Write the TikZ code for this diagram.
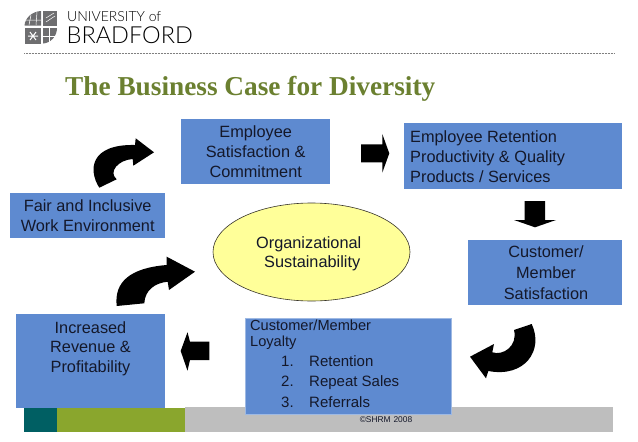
\documentclass[tikz,border=0pt]{standalone}
\usepackage{fontspec}
\setmainfont{Liberation Sans}
\newfontfamily\titlefont{Liberation Serif}
\newfontfamily\logofont{Lato Light}
\usetikzlibrary{shapes.geometric}
\definecolor{boxblue}{HTML}{5E8AD0}
\definecolor{inkdark}{HTML}{14182A}
\definecolor{titlegreen}{HTML}{6B8030}
\definecolor{ovalfill}{HTML}{FFFF99}
\definecolor{barteal}{HTML}{005F63}
\definecolor{bargreen}{HTML}{8AA62D}
\definecolor{bargrey}{HTML}{BEBEBE}
\definecolor{logogrey}{HTML}{6E6E70}
\tikzset{
  x=1pt,y=-1pt,
  boxnode/.style={fill=boxblue,draw=none,inner sep=0pt,text=inkdark,align=center,anchor=north west,
    font=\fontsize{16.3}{19.6}\selectfont},
  label/.style={inner sep=0pt,text=inkdark,font=\fontsize{16.3}{19.6}\selectfont},
  listlabel/.style={label,anchor=base west,font=\fontsize{15}{17}\selectfont},
  blockarrow/.style={fill=black,draw=none},
  logotile/.style={fill=logogrey,draw=none},
  logoline/.style={draw=white,line width=.5pt}
}
\begin{document}
\begin{tikzpicture}
\useasboundingbox (0,0) rectangle (638,442);
\fill[white] (0,0) rectangle (638,442);
% footer
\fill[bargrey] (185,407) rectangle (613,432);
\fill[barteal] (24,408) rectangle (57,432);
\fill[bargreen] (57,408) rectangle (185,432);
\node[inner sep=0pt,text=inkdark,font=\fontsize{8.4}{10}\selectfont] (copy) at (386,420) {©SHRM\,\,2008};
% header
\draw[densely dotted,gray,line width=.5pt] (24,53) -- (614,53);
\fill[logotile] (41,11) -- (41,25.5) -- (24.5,25.5) .. controls (25,18) and (32,11.5) .. (41,11) -- cycle;
\fill[logotile] (43,10.5) rectangle (57,25.5);
\fill[logotile] (24.5,28) rectangle (41,43.5);
\fill[logotile] (43,28) -- (57,28) .. controls (57,36) and (51,43) .. (43,43.5) -- cycle;
\draw[logoline] (25,20) -- (41,20) (29,25) -- (31,15) (36,25) -- (37,12);
\draw[logoline] (46,22) -- (55,16) (46,18) -- (54,13);
\draw[logoline] (43,36) -- (55,36) (49,28) -- (49,42);
\draw[white,line width=1pt] (28,36) -- (38,36) (30,32) -- (36,40) (30,40) -- (36,32);
\node[anchor=base west,inner sep=0pt,font=\logofont\fontsize{14}{16}\selectfont] (uni) at (67,21) {UNIVERSITY of};
\node[anchor=base west,inner sep=0pt,font=\logofont\fontsize{23.5}{26}\selectfont] (brad) at (66.5,43) {BRADFORD};
\node[anchor=base west,inner sep=0pt,text=titlegreen,font=\titlefont\bfseries\fontsize{27.3}{30}\selectfont] (title) at (65,95) {The Business Case for Diversity};
% boxes
\node[boxnode,minimum width=149,minimum height=65] (sat) at (181,119) {Employee\\Satisfaction \&\\Commitment};
\node[boxnode,minimum width=155,minimum height=45] (fair) at (10,193) {Fair and Inclusive\\Work Environment};
\node[boxnode,minimum width=218,minimum height=66] (ret) at (404,123) {};
\node[label,align=left,anchor=north west,font=\fontsize{16.3}{20}\selectfont] (rett) at (410,130) {Employee Retention\\Productivity \& Quality\\Products / Services};
\node[boxnode,minimum width=154,minimum height=65] (cust) at (468,240) {};
\node[label,align=center,anchor=north,font=\fontsize{16.3}{20.8}\selectfont] (custt) at (546,245.5) {Customer/\\Member\\Satisfaction};
\node[boxnode,minimum width=149,minimum height=94] (rev) at (16,314) {};
\node[label,align=center,anchor=north] (revt) at (90.5,321) {Increased\\Revenue \&\\Profitability};
\node[boxnode,draw=white!40!boxblue,line width=.4pt,minimum width=206,minimum height=96] (loy) at (245,318) {};
\node[label,align=left,anchor=north west,font=\fontsize{14.6}{16.4}\selectfont] (loyt) at (250,319.5) {Customer/Member\\Loyalty};
\node[listlabel] (n1) at (281,366.5) {1.};
\node[listlabel] (n2) at (281,386.5) {2.};
\node[listlabel] (n3) at (281,407) {3.};
\node[listlabel] (r1) at (309,366.5) {Retention};
\node[listlabel] (r2) at (309,386.5) {Repeat Sales};
\node[listlabel] (r3) at (309,407) {Referrals};
% oval
\node[ellipse,draw=black!80!olive,line width=.6pt,fill=ovalfill,minimum width=197,minimum height=98,inner sep=0pt] (oval) at (311.5,252) {};
\node[label,align=left,anchor=north west] (ovt) at (256,236) {Organizational\\\hspace*{8pt}Sustainability};
% block arrows
\fill[blockarrow] (361,144.3) -- (382.3,144.3) -- (382.3,134) -- (389.3,153.3) -- (382.3,172.7) -- (382.3,162.3) -- (361,162.3) -- cycle;
\fill[blockarrow] (524.7,201) -- (545,201) -- (545,220) -- (556,220) -- (535,227.3) -- (514,220) -- (524.7,220) -- cycle;
\fill[blockarrow] (209.3,341.7) -- (190,341.7) -- (187.5,332.3) -- (180.7,351) -- (187.5,370.7) -- (190,360) -- (209.3,360) -- cycle;
% bent arrows
\fill[blockarrow] (99.3,187.7) .. controls (88,170) and (90,144) .. (135,145) -- (135.7,138.3) -- (154,152.3) -- (133.3,165.7) -- (132.7,159) .. controls (118,160) and (108,172) .. (116.7,179.3) -- cycle;
\fill[blockarrow] (116.7,306) .. controls (114,282) and (130,268) .. (166.7,265) -- (166.7,256.7) -- (195,271.7) -- (169,290) -- (167.7,281.7) .. controls (155,283) and (145,290) .. (144.3,303.3) -- cycle;
\fill[blockarrow] (531.7,324) .. controls (544,350) and (525,378) .. (488.3,371) -- (486,378.3) -- (470,356.7) -- (494,344) -- (492.3,352.3) .. controls (503,356) and (518,346) .. (514,330) -- cycle;
\end{tikzpicture}
\end{document}
